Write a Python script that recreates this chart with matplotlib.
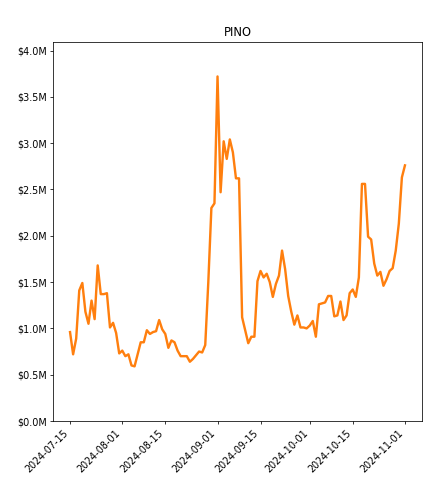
import pandas as pd
import matplotlib
matplotlib.use('Agg')
import matplotlib.pyplot as plt
import matplotlib.ticker as mticker

# Daily value (in $M)
START_DATE = '2024-07-15'
TOKEN = 'PINO'
values_m = [
    0.96, 0.72, 0.89, 1.41, 1.49, 1.18, 1.05, 1.30, 1.10, 1.68,
    1.37, 1.37, 1.38, 1.01, 1.06, 0.95, 0.73, 0.76, 0.70, 0.72,
    0.60, 0.59, 0.72, 0.85, 0.85, 0.98, 0.94, 0.96, 0.97, 1.09,
    0.99, 0.94, 0.79, 0.87, 0.85, 0.76, 0.70, 0.70, 0.70, 0.64,
    0.67, 0.71, 0.75, 0.74, 0.82, 1.50, 2.30, 2.35, 3.72, 2.47,
    3.02, 2.83, 3.04, 2.90, 2.62, 2.62, 1.12, 0.98, 0.84, 0.91,
    0.91, 1.51, 1.62, 1.55, 1.59, 1.50, 1.34, 1.48, 1.57, 1.84,
    1.64, 1.35, 1.18, 1.04, 1.14, 1.01, 1.01, 1.00, 1.03, 1.08,
    0.91, 1.26, 1.27, 1.28, 1.35, 1.35, 1.13, 1.14, 1.29, 1.09,
    1.14, 1.38, 1.42, 1.34, 1.55, 2.56, 2.56, 1.99, 1.96, 1.70,
    1.57, 1.61, 1.46, 1.53, 1.62, 1.65, 1.84, 2.13, 2.63, 2.76,
]
tick_dates = ['2024-07-15', '2024-08-01', '2024-08-15', '2024-09-01',
              '2024-09-15', '2024-10-01', '2024-10-15', '2024-11-01']


def main():
    df = pd.DataFrame({
        'Date': pd.date_range(START_DATE, periods=len(values_m), freq='D'),
        'Value': [v * 1e6 for v in values_m],
    })

    fig = plt.figure(figsize=(439 / 69, 480 / 69), dpi=69)
    ax = fig.add_subplot(111)
    fig.subplots_adjust(left=0.1214, right=0.9606, bottom=0.1229, top=0.9125)

    ax.plot(df['Date'], df['Value'], color='#ff7f0e', linewidth=2.5)
    ax.set_title(TOKEN)
    ax.set_ylim(0, df['Value'].max() * 1.1)
    ax.yaxis.set_major_locator(mticker.MultipleLocator(0.5e6))
    ax.yaxis.set_major_formatter(mticker.FuncFormatter(lambda x, p: f'${x / 1e6:.1f}M'))

    ax.set_xticks(pd.to_datetime(tick_dates))
    ax.set_xticklabels(tick_dates, rotation=45, ha='right')

    fig.savefig('out.png', dpi=69)


if __name__ == "__main__":
    main()
